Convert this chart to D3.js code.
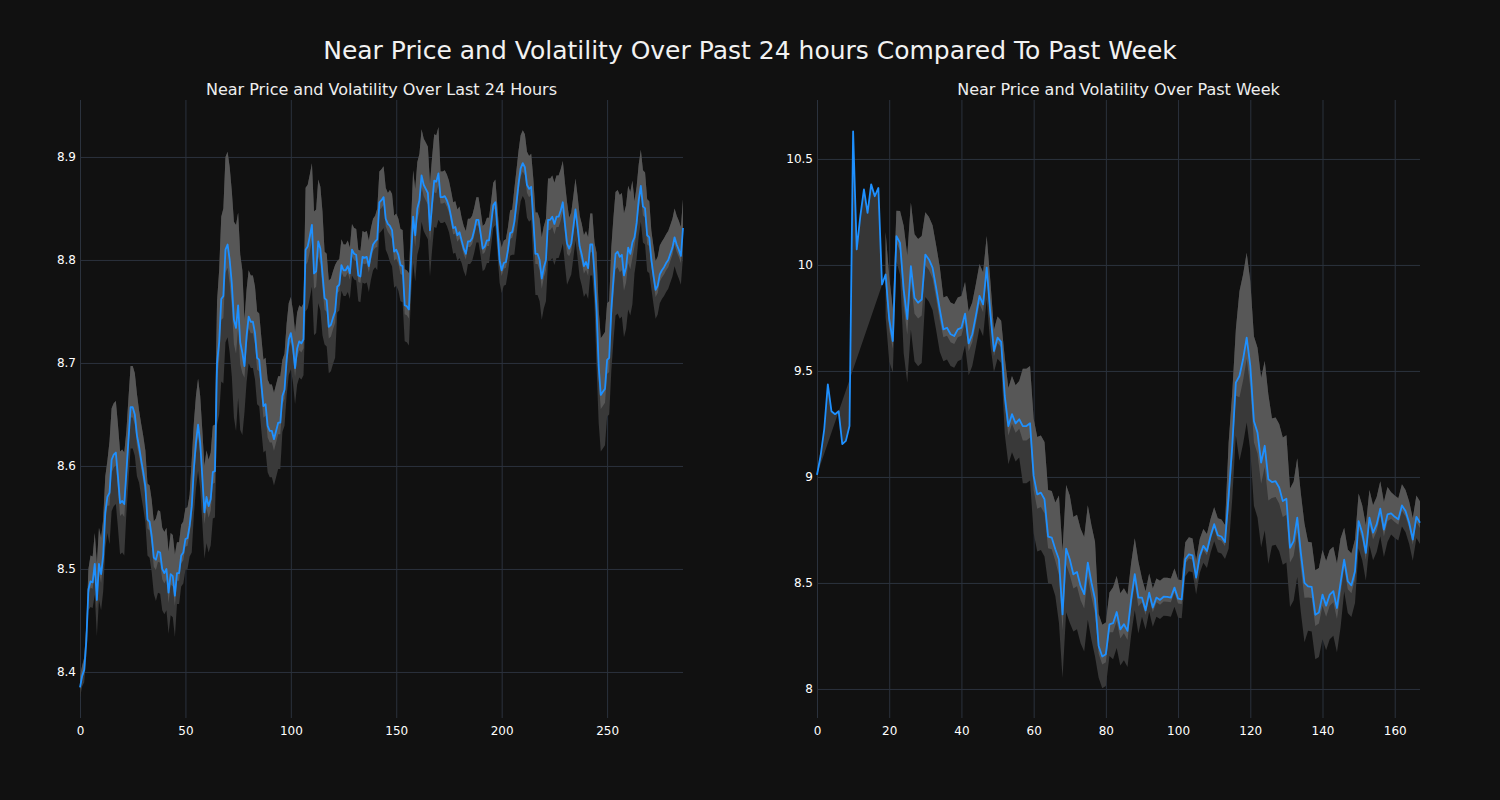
<!DOCTYPE html>
<html><head><meta charset="utf-8">
<script src="https://cdn.jsdelivr.net/npm/d3@7/dist/d3.min.js"></script>
<style>body{margin:0;background:#111111;}svg{display:block;}</style>
</head><body>
<svg id="chart" width="1500" height="800"></svg>
<script>
const mainTitle = "Near Price and Volatility Over Past 24 hours Compared To Past Week";
const dayTitle = "Near Price and Volatility Over Last 24 Hours";
const weekTitle = "Near Price and Volatility Over Past Week";

const dayPrice = [
8.385,8.396,8.402,8.43,8.48,8.488,8.487,8.505,8.47,8.505,
8.495,8.513,8.555,8.57,8.574,8.606,8.611,8.613,8.59,8.564,
8.566,8.563,8.594,8.626,8.657,8.657,8.65,8.63,8.619,8.606,
8.594,8.58,8.548,8.546,8.532,8.511,8.509,8.517,8.516,8.5,
8.496,8.5,8.477,8.495,8.493,8.474,8.496,8.496,8.513,8.516,
8.529,8.53,8.542,8.561,8.597,8.623,8.64,8.623,8.59,8.555,
8.57,8.561,8.568,8.594,8.595,8.70,8.72,8.762,8.765,8.81,
8.815,8.8,8.777,8.742,8.734,8.756,8.72,8.71,8.697,8.726,
8.745,8.74,8.74,8.729,8.705,8.703,8.68,8.658,8.66,8.639,
8.634,8.634,8.626,8.634,8.642,8.642,8.668,8.674,8.703,8.723,
8.729,8.716,8.695,8.714,8.721,8.719,8.723,8.81,8.813,8.823,
8.834,8.787,8.789,8.818,8.811,8.787,8.763,8.761,8.735,8.737,
8.744,8.75,8.774,8.776,8.795,8.79,8.79,8.794,8.787,8.81,
8.806,8.805,8.785,8.784,8.803,8.802,8.803,8.794,8.806,8.815,
8.818,8.82,8.856,8.858,8.861,8.84,8.835,8.833,8.829,8.808,
8.81,8.805,8.795,8.794,8.756,8.755,8.752,8.8,8.842,8.824,
8.85,8.858,8.882,8.873,8.869,8.865,8.829,8.855,8.877,8.876,
8.884,8.861,8.861,8.862,8.858,8.852,8.842,8.831,8.832,8.824,
8.827,8.819,8.811,8.806,8.818,8.818,8.821,8.829,8.839,8.839,
8.826,8.811,8.813,8.819,8.819,8.835,8.853,8.856,8.829,8.8,
8.79,8.797,8.798,8.81,8.826,8.827,8.837,8.855,8.874,8.889,
8.894,8.89,8.873,8.869,8.871,8.839,8.806,8.806,8.8,8.782,
8.793,8.8,8.839,8.839,8.842,8.835,8.842,8.842,8.848,8.856,
8.835,8.816,8.811,8.816,8.832,8.849,8.832,8.813,8.805,8.794,
8.798,8.792,8.815,8.815,8.787,8.752,8.697,8.669,8.672,8.675,
8.703,8.705,8.752,8.781,8.806,8.808,8.803,8.805,8.785,8.793,
8.812,8.806,8.817,8.822,8.836,8.858,8.872,8.852,8.85,8.824,
8.822,8.8,8.785,8.771,8.775,8.786,8.79,8.793,8.797,8.8,
8.806,8.812,8.822,8.815,8.81,8.804,8.831
];

const dayVol = [
0.01,0.01,0.012,0.015,0.02,0.025,0.025,0.03,
0.035,0.035,0.035,0.035,0.035,0.035,
0.05,0.05,0.05,0.05,0.05,0.05,0.05,0.05,
0.04,0.04,0.04,0.04,0.04,0.04,
0.035,0.035,0.035,0.035,0.035,0.035,0.035,0.035,
0.04,0.04,0.04,0.04,0.04,0.04,0.04,0.04,0.04,0.04,
0.03,0.03,0.03,0.03,0.03,0.03,0.03,
0.045,0.045,0.045,0.045,0.045,0.045,0.045,0.045,0.045,0.045,0.045,0.045,
0.06,0.07,0.08,0.085,0.09,0.09,0.09,
0.09,0.095,0.1,0.09,0.085,0.08,
0.045,0.045,0.045,0.045,0.045,0.045,0.045,0.045,
0.045,0.045,0.045,0.045,0.045,0.045,0.045,0.045,0.045,0.045,
0.035,0.035,0.035,0.035,0.035,0.035,0.035,0.035,0.035,0.035,0.035,
0.06,0.06,0.06,0.06,0.06,0.06,0.06,0.06,0.06,
0.045,0.045,0.045,0.045,0.045,0.045,
0.025,0.025,0.025,0.025,0.025,0.025,0.025,0.025,0.025,0.025,
0.025,0.025,0.025,0.025,0.025,0.025,0.025,0.025,0.025,
0.03,0.03,0.03,0.03,0.03,0.03,
0.035,0.035,0.035,0.035,0.035,0.035,0.035,0.035,0.035,0.035,0.035,
0.045,0.045,0.045,0.045,0.045,0.045,0.045,0.045,0.045,0.045,0.045,0.045,0.045,
0.025,0.025,0.025,0.025,0.025,0.025,0.025,0.025,0.025,0.025,
0.022,0.022,0.022,0.022,0.022,0.022,0.022,0.022,0.022,0.022,
0.022,0.022,0.022,0.022,0.022,0.022,0.022,0.022,0.022,0.022,
0.022,0.022,0.022,0.022,0.022,
0.032,0.032,0.032,0.032,0.032,0.032,0.032,0.032,0.032,
0.04,0.04,0.04,0.04,0.04,0.04,0.04,
0.04,0.04,0.04,0.04,0.04,0.04,0.04,0.04,0.04,0.04,
0.03,0.03,0.03,0.03,0.03,0.03,0.03,0.03,0.03,0.03,0.03,0.03,0.03,
0.055,0.055,0.055,0.055,0.055,0.055,0.055,
0.06,0.06,0.06,0.06,0.06,0.06,0.06,0.06,0.06,0.06,0.06,
0.035,0.035,0.035,0.035,0.035,0.035,0.035,0.035,
0.028,0.028,0.028,0.028,0.028,0.028,0.028,0.028,
0.028,0.028,0.028,0.028,0.028,0.028,0.028,0.028
];

const weekPrice = [
9.01,9.1,9.225,9.437,9.31,9.296,9.31,9.155,9.17,9.24,
10.63,10.073,10.23,10.356,10.246,10.38,10.324,10.363,9.908,9.955,
9.744,9.641,10.136,10.104,9.885,9.744,9.994,9.845,9.822,9.837,
10.049,10.026,9.987,9.892,9.79,9.696,9.704,9.673,9.665,9.696,
9.704,9.77,9.63,9.673,9.76,9.854,9.814,9.987,9.775,9.594,
9.657,9.637,9.382,9.24,9.296,9.253,9.272,9.24,9.24,9.253,
9.005,8.918,8.926,8.895,8.719,8.714,8.659,8.612,8.352,8.662,
8.612,8.541,8.552,8.486,8.447,8.596,8.502,8.423,8.203,8.153,
8.164,8.305,8.31,8.363,8.281,8.305,8.274,8.423,8.541,8.431,
8.431,8.371,8.454,8.384,8.431,8.42,8.435,8.434,8.431,8.478,
8.426,8.423,8.612,8.635,8.63,8.525,8.627,8.675,8.651,8.722,
8.777,8.725,8.719,8.693,8.911,9.146,9.445,9.476,9.555,9.657,
9.524,9.264,9.209,9.068,9.147,8.989,8.976,8.98,8.95,8.886,
8.897,8.666,8.697,8.808,8.642,8.5,8.484,8.481,8.35,8.361,
8.445,8.393,8.445,8.461,8.382,8.5,8.61,8.508,8.489,8.555,
8.792,8.737,8.642,8.808,8.737,8.776,8.85,8.752,8.823,8.828,
8.812,8.8,8.866,8.839,8.784,8.705,8.812,8.784
];

const weekVol = [
null,null,null,null,null,null,null,null,null,null,
null,null,null,null,null,null,null,null,null,
0.2,0.2,0.15,0.12,
0.15,0.3,0.3,0.3,0.3,0.3,0.3,
0.2,0.2,0.2,0.2,0.2,
0.15,0.15,0.15,0.15,0.15,0.15,0.15,0.15,0.15,0.15,0.15,0.15,0.15,0.15,
0.1,0.1,0.1,
0.18,0.18,0.18,0.18,0.18,
0.27,0.27,0.27,0.27,0.27,0.27,0.27,
0.22,0.22,0.22,
0.3,0.3,0.3,0.3,
0.27,0.27,0.27,0.27,0.27,0.27,0.27,
0.15,0.15,0.15,0.15,
0.17,0.17,0.17,0.17,0.17,0.17,0.17,0.17,
0.09,0.09,0.09,0.09,0.09,0.09,0.09,0.09,0.09,0.09,0.09,0.09,
0.08,0.08,0.08,0.08,0.08,0.08,0.08,0.08,0.08,0.08,0.08,0.08,
0.25,0.25,0.25,
0.4,0.4,0.4,0.4,0.4,0.4,0.4,0.4,0.4,
0.3,0.3,0.3,0.3,0.3,
0.28,0.28,0.28,0.28,0.28,
0.21,0.21,0.21,0.21,0.21,0.21,0.21,0.21,0.21,0.21,
0.15,0.15,0.15,0.15,
0.13,0.13,0.13,0.13,0.13,0.13,0.13,0.13,0.13,
0.1,0.1,0.1,0.1,0.1,0.1,0.1,0.1,0.1
];

const dayXTicks = [0, 50, 100, 150, 200, 250];
const dayYTicks = [8.4, 8.5, 8.6, 8.7, 8.8, 8.9];
const dayYLabels = ["8.4", "8.5", "8.6", "8.7", "8.8", "8.9"];
const weekXTicks = [0, 20, 40, 60, 80, 100, 120, 140, 160];
const weekYTicks = [8, 8.5, 9, 9.5, 10, 10.5];
const weekYLabels = ["8", "8.5", "9", "9.5", "10", "10.5"];

const svg = d3.select("#chart");
const FONT = "DejaVu Sans, sans-serif";
const GRID = "#2b323d";
const TOP = 100, BOTTOM = 718;

svg.append("rect").attr("width", 1500).attr("height", 800).attr("fill", "#111111");

svg.append("text").attr("x", 750).attr("y", 59).attr("text-anchor", "middle")
  .attr("font-family", FONT).attr("font-size", 25).attr("fill", "#f2f2f2").text(mainTitle);

function panel(cfg) {
  const n = cfg.price.length;
  const x = d3.scaleLinear().domain([0, n - 1]).range([cfg.x0, cfg.x1]);
  const y = d3.scaleLinear().domain(cfg.yDomain).range([BOTTOM, TOP]);
  const g = svg.append("g");

  g.append("text").attr("x", (cfg.x0 + cfg.x1) / 2).attr("y", 95).attr("text-anchor", "middle")
    .attr("font-family", FONT).attr("font-size", 16).attr("fill", "#eeeeee").text(cfg.title);

  const xAxis = d3.axisBottom(x).tickValues(cfg.xTicks).tickFormat(d3.format("d"))
    .tickSizeInner(-(BOTTOM - TOP)).tickSizeOuter(0).tickPadding(8);
  const gx = g.append("g").attr("transform", `translate(0,${BOTTOM})`).call(xAxis);
  const yAxis = d3.axisLeft(y).tickValues(cfg.yTicks).tickFormat((d, i) => cfg.yLabels[i])
    .tickSizeInner(-(cfg.x1 - cfg.x0)).tickSizeOuter(0).tickPadding(4);
  const gy = g.append("g").attr("transform", `translate(${cfg.x0},0)`).call(yAxis);
  [gx, gy].forEach(a => {
    a.select(".domain").remove();
    a.selectAll(".tick line").attr("stroke", GRID).attr("stroke-width", 1);
    a.selectAll(".tick text").attr("fill", "#ffffff").attr("font-family", FONT).attr("font-size", 12);
  });

  const idx = d3.range(n);
  const defined = idx.filter(i => cfg.vol[i] !== null);
  const first = defined[0];

  // wedge before the band starts (price path closed back to its first point)
  if (first > 0) {
    const pts = idx.slice(0, first + 1).map(i => [x(i), y(cfg.price[i])]);
    g.append("path").attr("d", "M" + pts.join("L") + "Z").attr("fill", "#363636").attr("stroke", "none");
  }

  const areaOuter = d3.area().x(i => x(i))
    .y0(i => y(cfg.price[i] - cfg.vol[i])).y1(i => y(cfg.price[i] + cfg.vol[i]));
  const areaInner = d3.area().x(i => x(i))
    .y0(i => y(cfg.price[i] - 0.25 * cfg.vol[i])).y1(i => y(cfg.price[i] + cfg.vol[i]));
  g.append("path").datum(defined).attr("d", areaOuter).attr("fill", "#393939");
  g.append("path").datum(defined).attr("d", areaInner).attr("fill", "#575757");

  const line = d3.line().x(i => x(i)).y(i => y(cfg.price[i]));
  g.append("path").datum(idx).attr("d", line).attr("fill", "none")
    .attr("stroke", "#1e90ff").attr("stroke-width", 1.8).attr("stroke-linejoin", "round");
}

panel({ title: dayTitle, price: dayPrice, vol: dayVol, x0: 80, x1: 683,
  yDomain: [8.3553, 8.9553], xTicks: dayXTicks, yTicks: dayYTicks, yLabels: dayYLabels });
panel({ title: weekTitle, price: weekPrice, vol: weekVol, x0: 817, x1: 1420,
  yDomain: [7.863, 10.778], xTicks: weekXTicks, yTicks: weekYTicks, yLabels: weekYLabels });
</script>
</body></html>
